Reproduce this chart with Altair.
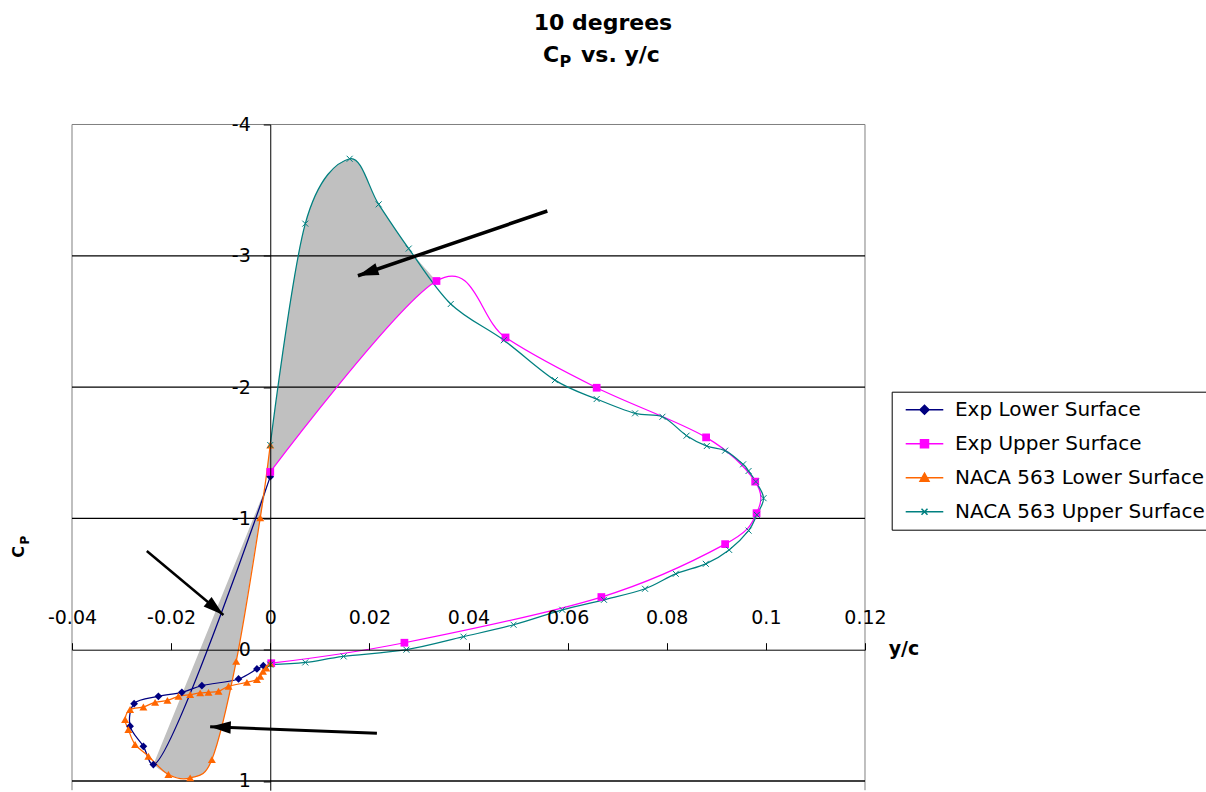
import math
import altair as alt
import pandas as pd

# ---------------- data (y/c, Cp) ----------------
series_names = ["Exp Lower Surface", "Exp Upper Surface",
                "NACA 563 Lower Surface", "NACA 563 Upper Surface"]
series_colors = ["#000080", "#FF00FF", "#FF6600", "#008080"]

exp_lower_x = [0.0, -0.02358, -0.0256, -0.02828, -0.02747, -0.02257, -0.01784,
               -0.0138, -0.0064, -0.00269, -0.0014]
exp_lower_cp = [-1.318, 0.875, 0.736, 0.583, 0.411, 0.355, 0.325,
                0.274, 0.223, 0.147, 0.122]

exp_upper_x = [0.0, 0.03354, 0.04747, 0.06586, 0.08794, 0.09784, 0.09812,
               0.09178, 0.06681, 0.02707, 0.0002]
exp_upper_cp = [-1.354, -2.808, -2.378, -1.995, -1.617, -1.280, -1.040,
                -0.804, -0.401, -0.053, 0.103]

naca_lower_x = [0.0, -0.00202, -0.00687, -0.01178, -0.01616, -0.02055, -0.02459,
                -0.02727, -0.02863, -0.02929, -0.02828, -0.0256, -0.02323, -0.02075,
                -0.01853, -0.01616, -0.01414, -0.01246, -0.01044, -0.00842, -0.00471,
                -0.00269, -0.00202, -0.00147, -0.00081, 0.0]
naca_lower_cp = [-1.559, -1.004, 0.089, 0.837, 0.976, 0.951, 0.811,
                 0.722, 0.608, 0.532, 0.456, 0.436, 0.401, 0.386,
                 0.355, 0.342, 0.329, 0.325, 0.317, 0.279, 0.249,
                 0.228, 0.203, 0.165, 0.139, 0.106]

naca_upper_x = [0.0, 0.00707, 0.01602, 0.02188, 0.02794, 0.03642, 0.04713, 0.05743,
                0.06586, 0.0736, 0.07913, 0.0840, 0.08808, 0.09178, 0.09541, 0.09651,
                0.09798, 0.09953, 0.09818, 0.09651, 0.09259, 0.08788, 0.08182, 0.07562,
                0.06733, 0.05893, 0.04909, 0.03899, 0.02747, 0.01481, 0.00707, 0.0]
naca_upper_cp = [-1.559, -3.245, -3.739, -3.392, -3.055, -2.633, -2.357, -2.053,
                 -1.909, -1.800, -1.774, -1.630, -1.551, -1.516, -1.412, -1.361,
                 -1.280, -1.154, -1.027, -0.907, -0.760, -0.654, -0.578, -0.464,
                 -0.380, -0.304, -0.190, -0.099, 0.0, 0.051, 0.097, 0.114]

# annotation arrows: tail (x0, cp0) -> head (x1, cp1)
arrow_x0 = [0.0559, -0.02491, 0.02152]
arrow_cp0 = [-3.341, -0.752, 0.637]
arrow_x1 = [0.01769, -0.00945, -0.01213]
arrow_cp1 = [-2.848, -0.264, 0.586]
arrow_width = [3.5, 2.5, 3.0]

x_ticks = [-0.04, -0.02, 0, 0.02, 0.04, 0.06, 0.08, 0.1, 0.12]
y_ticks = [-4, -3, -2, -1, 0, 1]
grid_values = [-3, -2, -1, 1]

title_line1 = ["10 degrees"]
title_c = ["C"]
title_p = ["P"]
title_rest = ["vs. y/c"]
x_title = ["y/c"]

# ---------------- layout ----------------
W, H = 793, 665.7
X_DOM = [-0.04, 0.12]
Y_DOM = [-4, 1.07]
PAD_L, PAD_T = 72, 124.5
px_per_x = W / (X_DOM[1] - X_DOM[0])
px_per_cp = H / (Y_DOM[1] - Y_DOM[0])
x0_px = (0 - X_DOM[0]) * px_per_x
y0_px = (0 - Y_DOM[0]) * px_per_cp

FONT = "DejaVu Sans"

xs = alt.Scale(domain=X_DOM, nice=False, zero=False)
ys = alt.Scale(domain=Y_DOM, nice=False, zero=False, reverse=True)

x_axis = alt.Axis(orient="top", offset=-(y0_px), values=x_ticks,
                  labelExpr="toString(datum.value)", title=None, grid=False,
                  domainColor="black", tickColor="black", tickSize=7,
                  labelColor="black", labelFont=FONT, labelFontSize=19,
                  labelBaseline="alphabetic", labelPadding=18.7,
                  labelFlush=False, labelOverlap=False, labelBound=False, zindex=1)
y_axis = alt.Axis(orient="left", offset=-(x0_px), values=y_ticks,
                  labelExpr="toString(datum.value)", title=None, grid=False,
                  domainColor="black", tickColor="black", tickSize=7,
                  labelColor="black", labelFont=FONT, labelFontSize=19,
                  labelPadding=13, labelFlush=False, labelOverlap=False,
                  labelBound=False, zindex=1)


def frame(xv, yv):
    return pd.DataFrame({"x": xv, "cp": yv, "i": list(range(len(xv)))})


def X(field):
    return alt.X(field, scale=xs, axis=x_axis)


def Y(field):
    return alt.Y(field, scale=ys, axis=y_axis)


series_x = [exp_lower_x, exp_upper_x, naca_lower_x, naca_upper_x]
series_cp = [exp_lower_cp, exp_upper_cp, naca_lower_cp, naca_upper_cp]
series_interp = ["catmull-rom", "cardinal", "cardinal", "cardinal"]

layers = []

# ---- plot frame (grey) ----
for enc in [dict(x=alt.value(0)), dict(x=alt.value(W)), dict(y=alt.value(0))]:
    layers.append(alt.Chart(pd.DataFrame({"k": [0]})).mark_rule(
        color="#808080", strokeWidth=1).encode(**enc))

# ---- shaded regions (built from the series points) ----
# region 1: NACA upper (leading edge part) vs Exp upper
poly1_x = [exp_upper_x[1]] + naca_upper_x[4::-1] + [exp_upper_x[0]]
poly1_cp = [exp_upper_cp[1]] + naca_upper_cp[4::-1] + [exp_upper_cp[0]]
# region 2: Exp lower (straight segment) vs NACA lower front part
poly2_x = [exp_lower_x[1]] + naca_lower_x[5:0:-1] + [exp_lower_x[0]]
poly2_cp = [exp_lower_cp[1]] + naca_lower_cp[5:0:-1] + [exp_lower_cp[0]]
# keeps region 1 from spilling past the curved Exp upper line
mask_x = exp_upper_x[0:3]
mask_cp = exp_upper_cp[0:3]
for px_, pc_, col in [(poly1_x, poly1_cp, "#C0C0C0"), (poly2_x, poly2_cp, "#C0C0C0"),
                      (mask_x, mask_cp, "#FFFFFF")]:
    layers.append(
        alt.Chart(frame(px_, pc_)).mark_line(
            interpolate="cardinal", fill=col, strokeOpacity=0
        ).encode(x=X("x:Q"), y=Y("cp:Q"), order="i:Q")
    )

# ---- horizontal gridlines ----
layers.append(
    alt.Chart(pd.DataFrame({"v": grid_values})).mark_rule(
        color="black", strokeWidth=1.3
    ).encode(y=Y("v:Q"))
)

# ---- series lines ----
for k in range(4):
    layers.append(
        alt.Chart(frame(series_x[k], series_cp[k])).mark_line(
            interpolate=series_interp[k], color=series_colors[k], strokeWidth=1.25
        ).encode(x=X("x:Q"), y=Y("cp:Q"), order="i:Q")
    )

# ---- series markers ----
marker_shapes = ["diamond", "square", "triangle-up", "M-1,-1L1,1M-1,1L1,-1"]
marker_filled = [True, True, True, False]
marker_sizes = [60, 60, 64, 36]
for k in range(4):
    layers.append(
        alt.Chart(frame(series_x[k], series_cp[k])).mark_point(
            shape=marker_shapes[k], filled=marker_filled[k], size=marker_sizes[k],
            color=series_colors[k], opacity=1, strokeWidth=1
        ).encode(x=X("x:Q"), y=Y("cp:Q"))
    )

# ---- arrows ----
angles = []
for a in range(3):
    dx = (arrow_x1[a] - arrow_x0[a]) * px_per_x
    dy = (arrow_cp1[a] - arrow_cp0[a]) * px_per_cp
    angles.append(math.degrees(math.atan2(dx, -dy)) % 360)
arrows = pd.DataFrame({"x0": arrow_x0, "y0": arrow_cp0, "x1": arrow_x1,
                       "y1": arrow_cp1, "w": arrow_width, "ang": angles})
layers.append(
    alt.Chart(arrows).mark_rule(color="black").encode(
        x=X("x0:Q"), y=Y("y0:Q"), x2="x1:Q", y2="y1:Q",
        strokeWidth=alt.StrokeWidth("w:Q", scale=None),
    )
)
layers.append(
    alt.Chart(arrows).mark_point(
        shape="M0,0L-0.3,1L0.3,1Z", filled=True, color="black", opacity=1, size=1700
    ).encode(x=X("x1:Q"), y=Y("y1:Q"), angle=alt.Angle("ang:Q", scale=None))
)


# ---- titles ----
def txt(values, x, y, size, bold=True, align="left", angle=0):
    kw = dict(font=FONT, fontSize=size, fontWeight="bold" if bold else "normal",
              align=align, baseline="alphabetic", color="black")
    if angle:
        kw["angle"] = angle
    return alt.Chart(pd.DataFrame({"t": values})).mark_text(**kw).encode(
        x=alt.value(x), y=alt.value(y), text="t:N")


layers.append(txt(title_line1, 603 - PAD_L, 30 - PAD_T, 22, align="center"))
layers.append(txt(title_c, 543 - PAD_L, 62.5 - PAD_T, 22))
layers.append(txt(title_p, 559.5 - PAD_L, 67.5 - PAD_T, 16))
layers.append(txt(title_rest, 581 - PAD_L, 62.5 - PAD_T, 22))
layers.append(txt(x_title, 904 - PAD_L, 655 - PAD_T, 19, align="center"))
layers.append(txt(title_c, 24 - PAD_L, 552 - PAD_T, 16, align="center", angle=270))
layers.append(txt(title_p, 29 - PAD_L, 540 - PAD_T, 12, align="center", angle=270))

# ---- legend (line + marker symbols) ----
legend_paths = [
    "M-0.8,0H6.72M2.96,-0.9L3.86,0L2.96,0.9L2.06,0Z",
    "M-0.8,0H6.72M2.16,-0.8H3.76V0.8H2.16Z",
    "M-0.8,0H6.72M2.96,-0.9L3.86,0.7L2.06,0.7Z",
    "M-0.8,0H6.72M2.36,-0.6L3.56,0.6M2.36,0.6L3.56,-0.6",
]
leg = alt.Legend(title=None, orient="none", legendX=891.7 - PAD_L, legendY=391.7 - PAD_T,
                 direction="vertical", strokeColor="black", fillColor="white",
                 padding=8, rowPadding=14, labelFont=FONT, labelFontSize=20,
                 labelColor="black", labelOffset=35.3, symbolSize=100,
                 symbolStrokeWidth=1.5, labelLimit=500, cornerRadius=0)
layers.append(
    alt.Chart(pd.DataFrame({"series": series_names})).transform_filter("false").mark_point(
        filled=True, opacity=1, size=100, strokeWidth=1.5
    ).encode(
        fill=alt.Fill("series:N", scale=alt.Scale(domain=series_names, range=series_colors), legend=leg),
        stroke=alt.Stroke("series:N", scale=alt.Scale(domain=series_names, range=series_colors), legend=leg),
        shape=alt.Shape("series:N", scale=alt.Scale(domain=series_names, range=legend_paths), legend=leg),
    )
)

chart = alt.layer(*layers).properties(
    width=W, height=H,
    padding={"left": PAD_L, "top": PAD_T, "right": 1206 - PAD_L - W, "bottom": 1},
    autosize=alt.AutoSizeParams(type="none"),
).configure_view(stroke=None)

chart.save("out.html", embed_options={"renderer": "svg", "actions": False})
